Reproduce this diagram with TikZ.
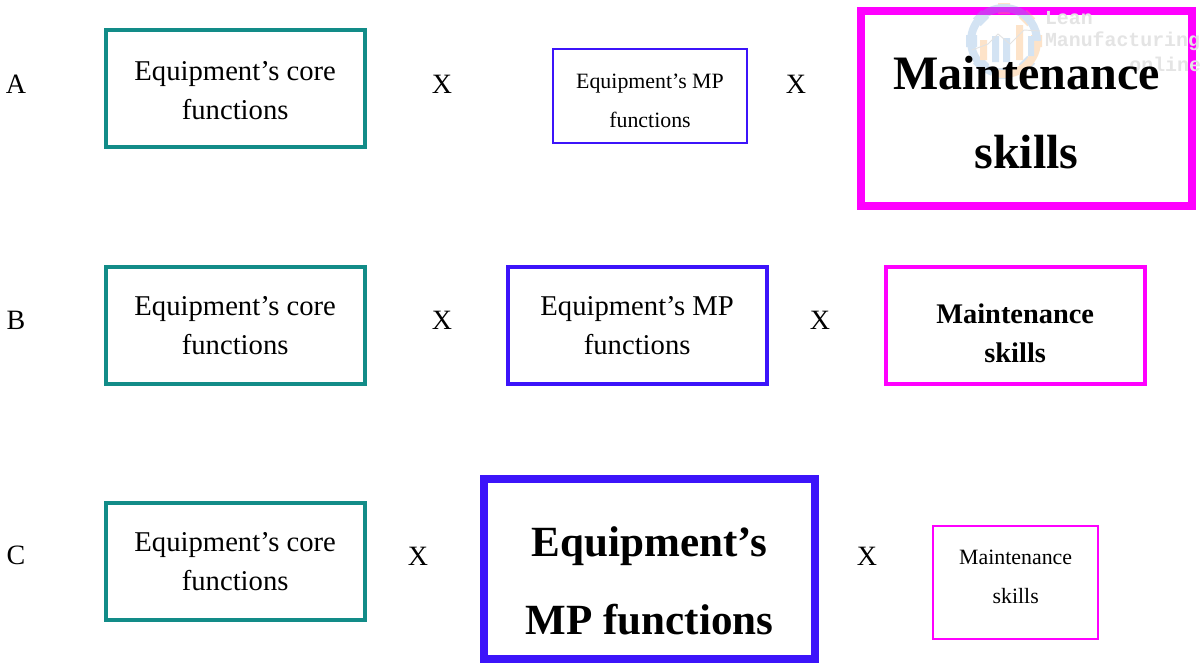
\documentclass[tikz,border=0pt]{standalone}
\usepackage{fontspec}
\setmainfont{Liberation Serif}
\newfontfamily\wmfont{Liberation Mono}
\definecolor{teal1}{RGB}{18,140,136}
\definecolor{blue1}{RGB}{60,20,250}
\definecolor{mag1}{RGB}{255,0,255}
\definecolor{wmblue}{RGB}{120,170,220}
\definecolor{wmorange}{RGB}{250,170,90}
\definecolor{wmgray}{RGB}{228,228,228}
\tikzset{
 every node/.style={inner sep=0pt,outer sep=0pt,align=center,text=black},
 bx/.style={draw,rectangle,anchor=north west},
 thinbx/.style={bx,line width=1.5pt},
 midbx/.style={bx,line width=3pt,minimum width=194.5pt,minimum height=88pt},
 bigbx/.style={bx,line width=6pt,minimum width=248.25pt},
 lbl/.style={font=\fontsize{21}{22}\selectfont},
 tx/.style={font=\fontsize{21.5}{29.3}\selectfont},
 sm/.style={font=\fontsize{16.4}{29.3}\selectfont},
 wm/.style={font=\fontsize{14.9}{16}\selectfont\wmfont\bfseries,text=wmgray,anchor=east,align=right},
}
\begin{document}
\begin{tikzpicture}[x=0.75pt,y=-0.75pt]
\useasboundingbox (0,0) rectangle (1201,669);
\fill[white] (0,0) rectangle (1201,669);
% boxes
\node[midbx,draw=teal1] (a1) at (105.5,29.5) {};
\node[thinbx,draw=blue1,minimum width=145.5pt,minimum height=70.5pt] (a2) at (553,49) {};
\node[bigbx,draw=mag1,minimum height=146pt] (a3) at (861,11) {};
\node[midbx,draw=teal1] (b1) at (105.5,266.5) {};
\node[midbx,draw=blue1] (b2) at (507.5,266.5) {};
\node[midbx,draw=mag1] (b3) at (885.5,266.5) {};
\node[midbx,draw=teal1] (c1) at (105.5,502.5) {};
\node[bigbx,draw=blue1,minimum height=135pt] (c2) at (484,479) {};
\node[thinbx,draw=mag1,minimum width=124pt,minimum height=85pt] (c3) at (933,526) {};
% watermark
\begin{scope}[transparency group,opacity=0.32]
\foreach \a in {0,45,...,315}{
  \ifnum\a<91 \def\wc{wmorange}\else\def\wc{wmblue}\fi
  \fill[\wc,rotate around={\a:(1004,41)}] (1031,35) rectangle (1042,47);
}
\draw[wmblue,line width=6pt] (1004,41) ++(110:33) arc[start angle=110,end angle=360,radius=33];
\draw[wmorange,line width=6pt] (1004,41) ++(0:33) arc[start angle=0,end angle=110,radius=33];
\fill[wmorange] (980,40) rectangle (987,60);
\fill[wmblue] (992,36) rectangle (999,62);
\fill[wmblue] (1003,38) rectangle (1010,62);
\fill[wmorange] (1016,25) rectangle (1023,60);
\fill[wmblue] (1028,36) rectangle (1034,56);
\draw[gray!70,line width=0.7pt] (972,50) -- (988,44) -- (998,34) -- (1010,44) -- (1024,30) -- (1040,31);
\end{scope}
\node[wm,anchor=west] (w1) at (1045,18) {Lean};
\node[wm,anchor=west] (w2) at (1045,41) {Manufacturing};
\node[wm] (w3) at (1201,64) {online};
% texts
\node[tx] (a1t) at ([yshift=-1.5pt]a1.center) {Equipment’s core\\functions};
\node[sm] (a2t) at ([yshift=-3.4pt]a2.center) {Equipment’s MP\\functions};
\node[font=\fontsize{36}{59}\selectfont\bfseries] (a3t) at ([yshift=-3pt]a3.center) {Maintenance\\skills};
\node[tx] (b1t) at (b1.center) {Equipment’s core\\functions};
\node[tx] (b2t) at (b2.center) {Equipment’s MP\\functions};
\node[font=\fontsize{21.3}{29.3}\selectfont\bfseries] (b3t) at ([yshift=-6pt]b3.center) {Maintenance\\skills};
\node[tx] (c1t) at (c1.center) {Equipment’s core\\functions};
\node[font=\fontsize{32.3}{58.5}\selectfont\bfseries] (c2t) at ([yshift=-9pt]c2.center) {Equipment’s\\MP functions};
\node[sm] (c3t) at ([yshift=4.5pt]c3.center) {Maintenance\\skills};
% labels
\node[lbl] (la) at (16,84) {A};
\node[lbl] (lb) at (16,320) {B};
\node[lbl] (lc) at (16,555) {C};
\node[lbl] (xa1) at (442,84) {X};
\node[lbl] (xa2) at (796,84) {X};
\node[lbl] (xb1) at (442,320) {X};
\node[lbl] (xb2) at (820,320) {X};
\node[lbl] (xc1) at (418,556) {X};
\node[lbl] (xc2) at (867,556) {X};
\end{tikzpicture}
\end{document}
